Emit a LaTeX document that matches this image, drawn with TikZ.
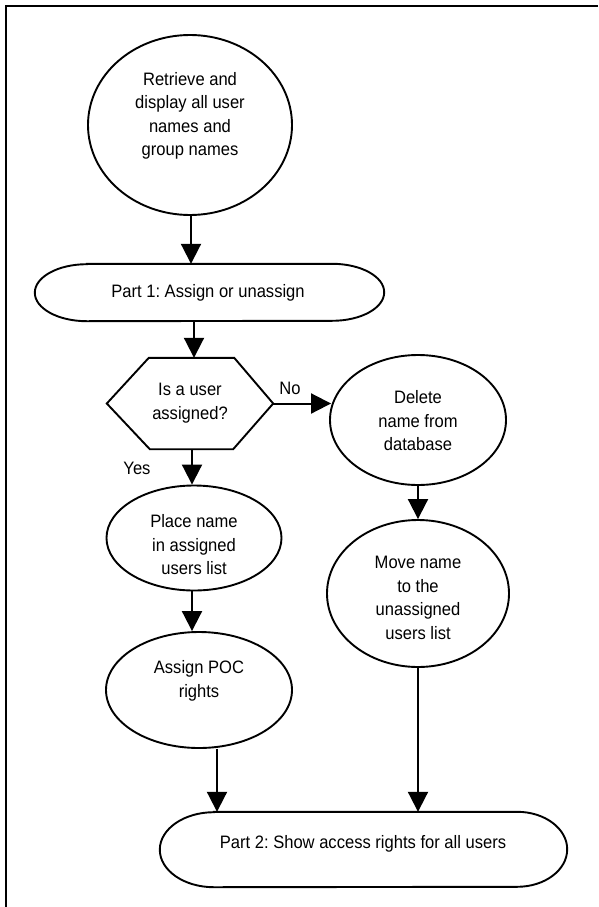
\documentclass[tikz,border=0pt]{standalone}
\usepackage{fontspec}
\setmainfont{Liberation Sans}[FakeStretch=0.92]
\usetikzlibrary{shapes.geometric,arrows.meta}
\frenchspacing
\begin{document}
\begin{tikzpicture}[x=1pt,y=-1pt,
  font=\fontsize{18pt}{23.5pt}\selectfont,
  shp/.style={draw,line width=1.9pt,inner sep=0pt},
  ell/.style={shp,ellipse},
  box/.style={inner sep=0pt},
  outl/.style={line width=1.9pt},
  txt/.style={align=center,inner sep=0pt},
  arr/.style={line width=2pt,-{Triangle[width=20pt,length=20pt]}},
  frm/.style={line width=2pt}]
\useasboundingbox (0,0) rectangle (598,907);
% frame (top and left edges only, as in the scan)
\draw[frm] (598,6) -- (6,6) -- (6,907);

% shapes
\node[ell,minimum width=204pt,minimum height=180pt] (c1) at (190,125) {};
\node[txt] (c1t) at (190,116) {Retrieve and\\display all user\\names and\\group names};

\node[box,minimum width=349pt,minimum height=57pt] (p1) at (209.5,292.5) {};
\draw[outl] ([xshift=52pt]p1.north west) -- ([xshift=-52pt]p1.north east)
  arc[start angle=90,end angle=-90,x radius=52pt,y radius=28.5pt]
  -- ([xshift=52pt]p1.south west)
  arc[start angle=270,end angle=90,x radius=52pt,y radius=28.5pt] -- cycle;
\node[txt] (p1t) at (208,293) {Part 1: Assign or unassign};

\node[box,minimum width=166pt,minimum height=91pt] (h) at (190,403.5) {};
\draw[outl,line join=miter] (h.west) -- ([xshift=42pt]h.north west) -- ([xshift=-39pt]h.north east)
  -- (h.east) -- ([xshift=-40pt]h.south east) -- ([xshift=43pt]h.south west) -- cycle;
\node[txt] (ht) at (190,403) {Is a user\\assigned?};

\node[ell,minimum width=176pt,minimum height=130pt] (d) at (418,420) {};
\node[txt] (dt) at (418,421) {Delete\\name from\\database};

\node[ell,minimum width=175pt,minimum height=105pt] (pl) at (194,538) {};
\node[txt] (plt) at (194,545) {Place name\\in assigned\\users list};

\node[ell,minimum width=182pt,minimum height=147pt] (mv) at (418,593.5) {};
\node[txt] (mvt) at (418,598) {Move name\\to the\\unassigned\\users list};

\node[ell,minimum width=186pt,minimum height=116pt] (poc) at (199,690) {};
\node[txt] (poct) at (199,681) {Assign POC\\rights};

\node[box,minimum width=407pt,minimum height=75pt] (p2) at (363.5,849.5) {};
\draw[outl] ([xshift=54pt]p2.north west) -- ([xshift=-50pt]p2.north east)
  arc[start angle=90,end angle=-90,x radius=50pt,y radius=37.5pt]
  -- ([xshift=54pt]p2.south west)
  arc[start angle=270,end angle=90,x radius=54pt,y radius=37.5pt] -- cycle;
\node[txt] (p2t) at (363,844) {Part 2: Show access rights for all users};

% labels
\node[txt] (no) at (290,388) {No};
\node[txt] (yes) at (137,468) {Yes};

% connectors
\draw[arr] ([xshift=1pt]c1.south) -- ([xshift=1pt]c1.south |- p1.north);
\draw[arr] ([xshift=4pt]h.north |- p1.south) -- ([xshift=4pt]h.north);
\draw[arr] (h.east) -- ([xshift=2pt]h.east -| d.west);
\draw[arr] ([xshift=2pt]h.south) -- ([xshift=2pt]h.south |- pl.north);
\draw[arr] (d.south) -- (mv.north);
\draw[arr] ([xshift=-2pt]pl.south) -- ([xshift=-2pt]pl.south |- poc.north);
\draw[arr] ([xshift=18pt]poc.south) -- ([xshift=18pt]poc.south |- p2.north);
\draw[arr] (mv.south) -- (mv.south |- p2.north);
\end{tikzpicture}
\end{document}
